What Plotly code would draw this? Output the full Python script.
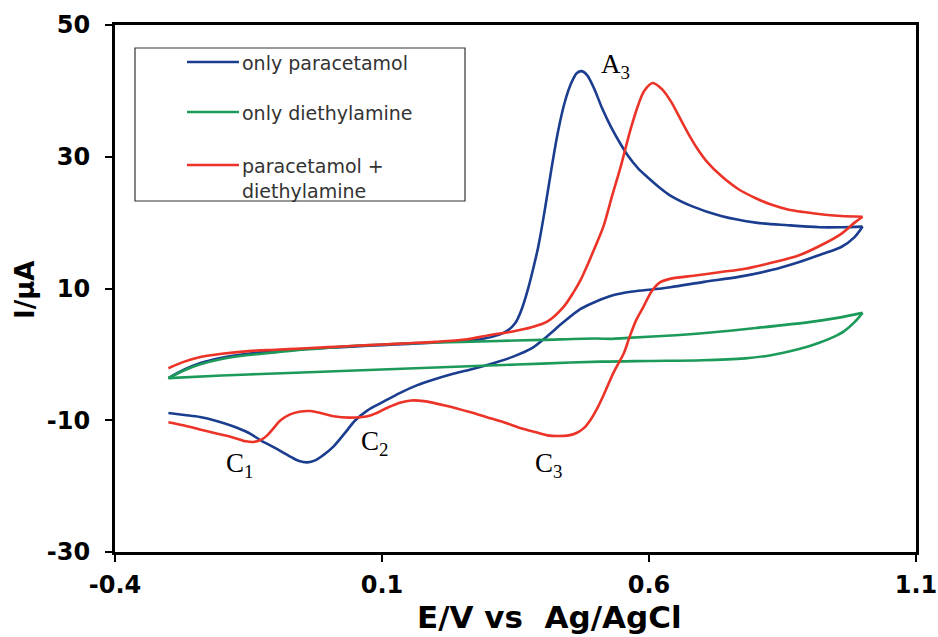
import plotly.graph_objects as go

# ---------------- data (E in V, I in µA) ----------------
# only paracetamol
para_e_fwd = [-0.30, -0.27, -0.24, -0.20, -0.15, -0.10, -0.05, 0.00, 0.05, 0.10, 0.15, 0.20, 0.25, 0.285,
              0.32, 0.335, 0.35, 0.36, 0.373, 0.384, 0.393, 0.405, 0.418, 0.43, 0.443, 0.455, 0.465, 0.474,
              0.484, 0.497, 0.512, 0.529, 0.547, 0.561, 0.58, 0.60, 0.62, 0.64, 0.68, 0.735, 0.80, 0.86,
              0.92, 0.96, 1.00]
para_i_fwd = [-3.6, -2.3, -1.3, -0.5, 0.1, 0.5, 0.8, 1.0, 1.2, 1.4, 1.6, 1.8, 2.1, 2.3,
              3.0, 3.6, 4.8, 6.5, 9.8, 13.3, 16.5, 22.0, 28.5, 34.0, 38.5, 41.3, 42.7, 43.0,
              42.4, 40.4, 37.4, 34.5, 31.9, 30.1, 28.2, 26.7, 25.3, 24.1, 22.5, 21.0, 20.0, 19.6,
              19.3, 19.3, 19.4]
para_e_rev = [1.00, 0.985, 0.96, 0.923, 0.88, 0.829, 0.77, 0.703, 0.64, 0.60, 0.566, 0.534, 0.50, 0.472,
              0.44, 0.41, 0.38, 0.347, 0.31, 0.266, 0.23, 0.197, 0.165, 0.135, 0.10, 0.073, 0.05, 0.03,
              0.009, -0.01, -0.025, -0.04, -0.055, -0.07, -0.085, -0.105, -0.128, -0.15, -0.179, -0.21,
              -0.241, -0.27, -0.30]
para_i_rev = [19.4, 17.8, 16.3, 15.2, 14.0, 12.8, 11.8, 11.0, 10.2, 9.8, 9.5, 9.0, 8.0, 6.9,
              4.9, 2.8, 0.9, -0.3, -1.3, -2.3, -3.0, -3.8, -4.7, -5.8, -7.3, -8.5, -10.0, -12.0,
              -14.0, -15.3, -16.1, -16.4, -16.2, -15.6, -14.9, -14.0, -13.0, -11.9, -10.9, -10.1,
              -9.5, -9.2, -8.9]

# only diethylamine
dea_e_fwd = [-0.30, -0.27, -0.24, -0.20, -0.15, -0.10, -0.05, 0.00, 0.05, 0.10, 0.20, 0.30, 0.40, 0.50,
             0.53, 0.56, 0.65, 0.70, 0.80, 0.90, 0.95, 1.00]
dea_i_fwd = [-3.6, -2.4, -1.5, -0.7, -0.1, 0.3, 0.7, 1.0, 1.3, 1.5, 1.8, 2.0, 2.2, 2.4,
             2.35, 2.5, 2.9, 3.2, 4.0, 4.9, 5.5, 6.3]
dea_e_rev = [1.00, 0.985, 0.965, 0.947, 0.92, 0.898, 0.86, 0.823, 0.78, 0.70, 0.60, 0.51, 0.40, 0.30,
             0.20, 0.10, 0.00, -0.10, -0.20, -0.30]
dea_i_rev = [6.3, 4.9, 3.5, 2.7, 1.8, 1.2, 0.4, -0.2, -0.6, -0.9, -1.0, -1.1, -1.4, -1.7,
             -2.0, -2.3, -2.6, -2.9, -3.2, -3.6]

# paracetamol + diethylamine
mix_e_fwd = [-0.30, -0.27, -0.24, -0.20, -0.15, -0.10, -0.05, 0.00, 0.05, 0.10, 0.15, 0.20, 0.26, 0.30,
             0.347, 0.38, 0.41, 0.44, 0.46, 0.472, 0.485, 0.497, 0.515, 0.53, 0.547, 0.566, 0.58, 0.591,
             0.607, 0.625, 0.641, 0.657, 0.673, 0.69, 0.71, 0.735, 0.767, 0.80, 0.83, 0.86, 0.89, 0.93,
             0.96, 1.00]
mix_i_fwd = [-2.1, -1.1, -0.4, 0.1, 0.5, 0.7, 0.9, 1.1, 1.3, 1.5, 1.7, 1.9, 2.3, 2.9,
             3.5, 4.1, 5.0, 7.2, 9.6, 11.3, 13.6, 15.9, 19.5, 23.8, 28.5, 34.3, 37.9, 40.0,
             41.2, 40.2, 38.4, 36.0, 33.6, 31.3, 29.1, 27.1, 25.1, 23.7, 22.7, 22.0, 21.6, 21.2,
             21.0, 20.9]
mix_e_rev = [1.00, 0.985, 0.96, 0.923, 0.88, 0.829, 0.78, 0.735, 0.69, 0.641, 0.62, 0.605, 0.59, 0.576,
             0.563, 0.553, 0.534, 0.516, 0.503, 0.49, 0.478, 0.465, 0.45, 0.429, 0.41, 0.392, 0.36,
             0.328, 0.295, 0.266, 0.22, 0.178, 0.155, 0.135, 0.11, 0.09, 0.073, 0.04, 0.009, -0.015,
             -0.034, -0.055, -0.072, -0.09, -0.104, -0.115, -0.125, -0.141, -0.155, -0.179, -0.21,
             -0.241, -0.27, -0.30]
mix_i_rev = [20.9, 20.0, 18.3, 16.6, 15.0, 13.9, 13.0, 12.5, 12.0, 11.5, 10.9, 9.6, 7.3, 5.2,
             2.5, 0.2, -2.7, -6.0, -8.2, -10.0, -11.2, -11.9, -12.3, -12.4, -12.3, -11.9, -11.2,
             -10.3, -9.5, -8.8, -7.8, -7.1, -7.0, -7.3, -8.1, -8.9, -9.4, -9.6, -9.4, -8.9,
             -8.6, -8.7, -9.1, -10.0, -11.3, -12.3, -12.9, -13.3, -13.2, -12.6, -12.0,
             -11.4, -10.8, -10.3]

series_names = ["only paracetamol", "only diethylamine", "paracetamol +<br>diethylamine"]
series_colors = ["#1b3d8f", "#1c9a5a", "#ec3328"]

peak_labels = ["C<sub>1</sub>", "C<sub>2</sub>", "C<sub>3</sub>", "A<sub>3</sub>"]
peak_label_e = [-0.167, 0.086, 0.412, 0.538]
peak_label_i = [-16.8, -13.4, -16.8, 43.8]

x_ticks = [-0.4, 0.1, 0.6, 1.1]
y_ticks = [-30, -10, 10, 30, 50]

# ---------------- figure ----------------
W, H = 938, 637
L, R, T, B = 115, 22, 25, 85
PW, PH = W - L - R, H - T - B


def px(x):
    return (x - L) / PW


def py(y):
    return (H - B - y) / PH


fig = go.Figure()
curves = [
    (para_e_fwd, para_i_fwd, para_e_rev, para_i_rev),
    (dea_e_fwd, dea_i_fwd, dea_e_rev, dea_i_rev),
    (mix_e_fwd, mix_i_fwd, mix_e_rev, mix_i_rev),
]
for (ef, i_f, er, i_r), name, col in zip(curves, series_names, series_colors):
    for xs, ys in ((ef, i_f), (er, i_r)):
        fig.add_trace(go.Scatter(
            x=xs, y=ys, mode="lines", name=name, showlegend=False,
            line=dict(color=col, width=2.6, shape="spline", smoothing=0.9),
            hoverinfo="skip"))

axis_common = dict(
    showgrid=False, zeroline=False, showline=True, linecolor="black", linewidth=3,
    mirror=True, ticks="outside", ticklen=7, tickwidth=2, tickcolor="black", automargin=False,
    tickfont=dict(family="DejaVu Sans", size=24, color="black", weight="bold"),
)
fig.update_xaxes(range=[-0.4, 1.1], tickvals=x_ticks, ticktext=[f"{v:g}" for v in x_ticks],
                 ticklabelstandoff=2, **axis_common)
fig.update_yaxes(range=[-30, 50], tickvals=y_ticks, ticktext=[str(v) for v in y_ticks],
                 ticklabelstandoff=10, **axis_common)

annotations = []
# axis titles
annotations.append(dict(xref="paper", yref="paper", x=px(549), y=py(617),
                        text="E/V vs  Ag/AgCl", showarrow=False, xanchor="center", yanchor="middle",
                        font=dict(family="DejaVu Sans", size=31, color="black", weight="bold")))
annotations.append(dict(xref="paper", yref="paper", x=px(25), y=py(290),
                        text="I/\u03bcA", showarrow=False, textangle=-90, xanchor="center", yanchor="middle",
                        font=dict(family="DejaVu Sans", size=26, color="black", weight="bold")))
# peak labels
for t, e, i in zip(peak_labels, peak_label_e, peak_label_i):
    annotations.append(dict(x=e, y=i, xref="x", yref="y", text=t, showarrow=False,
                            xanchor="center", yanchor="middle",
                            font=dict(family="Liberation Serif", size=27, color="black")))

# manual legend
shapes = [dict(type="rect", xref="paper", yref="paper", x0=px(135), x1=px(465), y0=py(201), y1=py(48),
               line=dict(color="#333333", width=1.2), fillcolor="rgba(0,0,0,0)")]
leg_y = [62, 112, 165]
for yy, name, col in zip(leg_y, series_names, series_colors):
    shapes.append(dict(type="line", xref="paper", yref="paper", x0=px(187), x1=px(239),
                       y0=py(yy), y1=py(yy), line=dict(color=col, width=2.6)))
    annotations.append(dict(xref="paper", yref="paper", x=px(240), y=py(yy - 12), text=name,
                            showarrow=False, xanchor="left", yanchor="top", align="left",
                            font=dict(family="DejaVu Sans", size=19, color="#333333")))

fig.update_layout(
    width=W, height=H, margin=dict(l=L, r=R, t=T, b=B),
    paper_bgcolor="white", plot_bgcolor="white",
    showlegend=False, annotations=annotations, shapes=shapes,
)

fig.write_html("out.html")
